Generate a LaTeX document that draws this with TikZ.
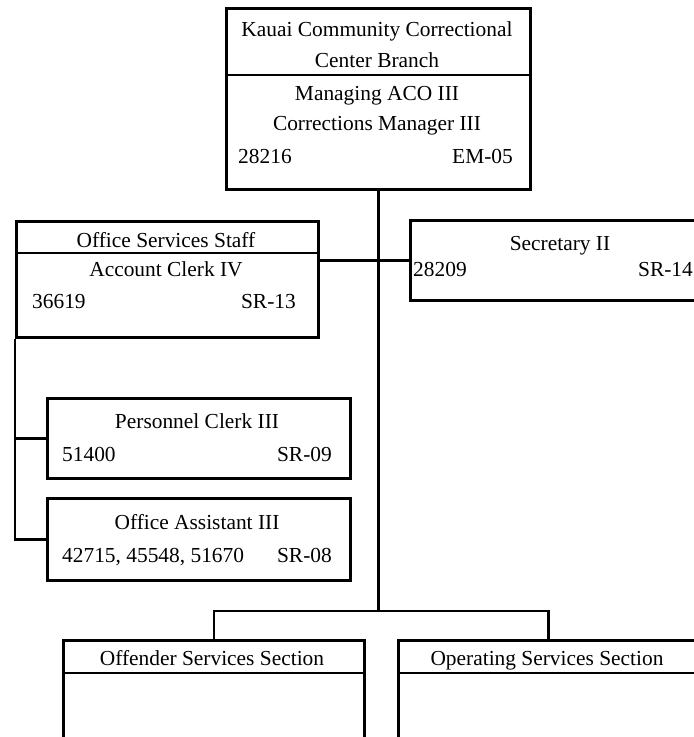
\documentclass[tikz,border=0pt]{standalone}
\usepackage{fontspec}
\setmainfont{Liberation Serif}
\usepackage{tikz}
\usetikzlibrary{positioning, calc}
\tikzset{
  box/.style={draw,line width=3pt,inner sep=0pt,anchor=north west},
  div/.style={line width=2.2pt},
  conn/.style={line width=2.6pt},
  txt/.style={font=\fontsize{21.4}{31}\selectfont,inner sep=0pt,anchor=base},
  txtl/.style={txt,anchor=base west},
  txtr/.style={txt,anchor=base east},
}

\begin{document}
\begin{tikzpicture}[x=1pt,y=-1pt]
  \clip (0,0) rectangle (694,737);
  % boxes
  \node[box,minimum width=304pt,minimum height=181pt] (top) at (225,7) {};
  \node[box,minimum width=302pt,minimum height=116pt] (os) at (15,220) {};
  \node[box,minimum width=300pt,minimum height=80pt] (sec) at (409,219) {};
  \node[box,minimum width=303pt,minimum height=80pt] (pers) at (46,397) {};
  \node[box,minimum width=303pt,minimum height=82pt] (oa) at (46,497) {};
  \node[box,minimum width=301pt,minimum height=120pt] (off) at (62,639) {};
  \node[box,minimum width=300pt,minimum height=120pt] (opr) at (397,639) {};
  % header rules
  \draw[div] ([yshift=-68pt]top.north west) -- ([yshift=-68pt]top.north east);
  \draw[div] ([yshift=-33pt]os.north west) -- ([yshift=-33pt]os.north east);
  \draw[div] ([yshift=-34pt]off.north west) -- ([yshift=-34pt]off.north east);
  \draw[div] ([yshift=-34pt]opr.north west) -- ([yshift=-34pt]opr.north east);
  % texts
  \node[txt] (topA) at (377,36) {Kauai Community Correctional};
  \node[txt] (topB) at (377,67) {Center Branch};
  \node[txt] (topC) at (377,100) {Managing ACO III};
  \node[txt] (topD) at (377,130) {Corrections Manager III};
  \node[txtl] (topN) at (238,163) {28216};
  \node[txtr] (topG) at (513,163) {EM-05};
  \node[txt] (osA) at (166,247) {Office Services Staff};
  \node[txt] (osB) at (166,276) {Account Clerk IV};
  \node[txtl] (osN) at (32,308) {36619};
  \node[txtr] (osG) at (296,308) {SR-13};
  \node[txt] (secA) at (560,250) {Secretary II};
  \node[txtl] (secN) at (413,276) {28209};
  \node[txtr] (secG) at (693,276) {SR-14};
  \node[txt] (persA) at (197,428) {Personnel Clerk III};
  \node[txtl] (persN) at (62,461) {51400};
  \node[txtr] (persG) at (332,461) {SR-09};
  \node[txt] (oaA) at (197,529) {Office Assistant III};
  \node[txtl] (oaN) at (62,562) {42715, 45548, 51670};
  \node[txtr] (oaG) at (332,562) {SR-08};
  \node[txt] (offA) at (212,665) {Offender Services Section};
  \node[txt] (oprA) at (547,665) {Operating Services Section};
  % connectors
  \path (top.south) ++(0,420) coordinate (jn);
  \draw[conn] (top.south) -- (jn);
  \draw[conn] (off.north) |- (jn) -| (opr.north);
  \draw[conn] (os.east |- sec.west) -- (sec.west);
  \draw[conn] (os.south west) |- (oa.west);
  \draw[conn] (pers.west) -- (pers.west -| os.west);
\end{tikzpicture}
\end{document}
